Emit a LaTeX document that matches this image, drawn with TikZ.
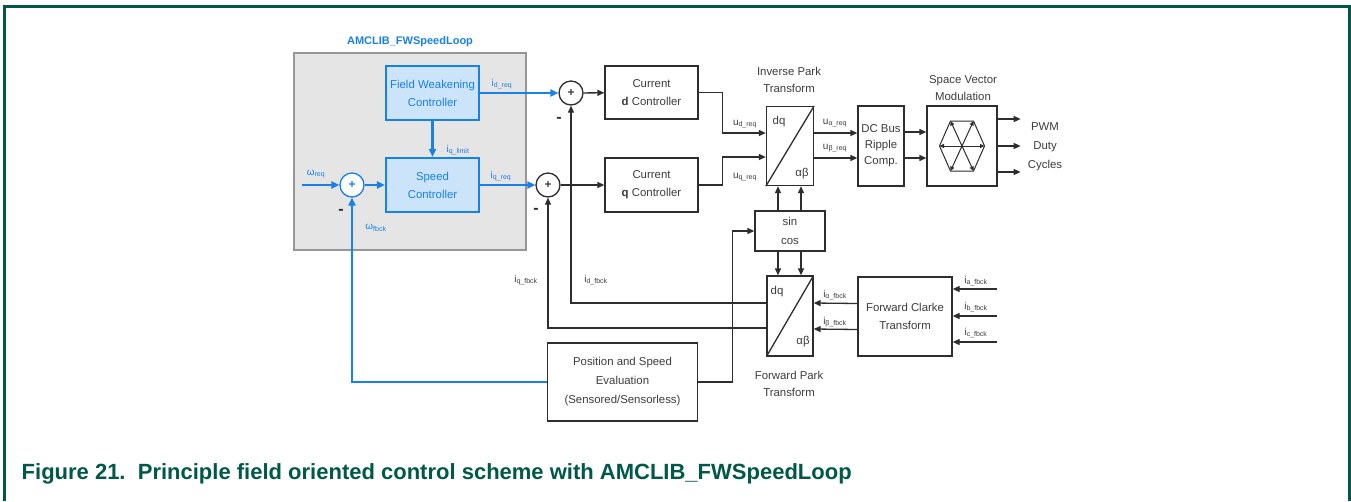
\documentclass[tikz,border=0pt]{standalone}
\usepackage{fontspec}
\setmainfont{Liberation Sans}
\usetikzlibrary{arrows.meta,calc}
\definecolor{frm}{RGB}{0,88,72}
\definecolor{ln}{RGB}{45,45,45}
\definecolor{tx}{RGB}{60,60,60}
\definecolor{bl}{RGB}{25,128,230}
\definecolor{bfill}{RGB}{204,228,250}
\definecolor{gfill}{RGB}{229,229,229}
\definecolor{gdraw}{RGB}{150,150,150}
\newcommand{\sbs}[1]{\textsubscript{#1}}
\begin{document}
\begin{tikzpicture}[x=1pt,y=-1pt,
 every node/.style={font=\fontsize{11.4}{18}\selectfont, text=tx},
 blk/.style={draw=ln, line width=1.3pt, fill=white, align=center, inner sep=0pt},
 bblk/.style={draw=bl, line width=2.2pt, fill=bfill, align=center, text=bl, inner sep=0pt},
 sumc/.style={circle, draw=ln, line width=1.3pt, minimum size=24pt, inner sep=0pt, fill=white, font=\fontsize{12}{12}\selectfont\bfseries},
 arr/.style={-{Triangle[length=7pt,width=6pt]}, line width=1.3pt, draw=ln},
 barr/.style={-{Triangle[length=8pt,width=7pt]}, line width=2.2pt, draw=bl},
 lbl/.style={font=\fontsize{10}{12}\selectfont, inner sep=0pt},
 blbl/.style={lbl, text=bl},
 sgn/.style={font=\fontsize{16}{16}\selectfont\bfseries, inner sep=0pt, text=ln},
]
\path[use as bounding box] (0,0) rectangle (1351,501);
\draw[frm, line width=3pt] (4,501) -- (4,6) -- (1349.5,6) -- (1349.5,501);

% AMCLIB block
\node[draw=gdraw, fill=gfill, line width=1.2pt, minimum width=232pt, minimum height=197pt] (amc) at (410,151.5) {};
\node[font=\fontsize{11}{13}\selectfont\bfseries, text=bl] (amct) at (410,42) {AMCLIB\_FWSpeedLoop};
\node[bblk, minimum width=93pt, minimum height=54pt] (fw) at (432.5,93) {Field Weakening\\Controller};
\node[bblk, minimum width=93pt, minimum height=54pt] (spd) at (432.5,185) {Speed\\Controller};
\node[sumc, draw=bl, text=bl] (s1) at (352,185) {+};
\coordinate (win) at (302,185);
\draw[barr] (win) -- (s1);
\draw[barr] (s1) -- (spd);
\draw[barr] (fw) -- (spd);
\node[blbl] (lwr) at (316,174) {ω\sbs{req}};
\node[blbl] (lql) at (458,150) {i\sbs{q\_limit}};
\node[blbl] (lwf) at (376,228) {ω\sbs{fbck}};
\node[sgn] (m1) at (341,212) {-};

% current loop
\node[sumc] (s2) at (571,93) {+};
\node[sumc] (s3) at (548,185) {+};
\draw[barr] (fw) -- (s2);
\draw[barr] (spd) -- (s3);
\node[blbl] (ldr) at (502,84) {i\sbs{d\_req}};
\node[blbl] (lqr) at (501,176) {i\sbs{q\_req}};
\node[sgn] (m2) at (559,120) {-};
\node[sgn] (m3) at (536,211) {-};

\node[blk, minimum width=93pt, minimum height=53pt] (cd) at (651.5,92.5) {Current\\\textbf{d} Controller};
\node[blk, minimum width=93pt, minimum height=54pt] (cq) at (651.5,185) {Current\\\textbf{q} Controller};
\draw[arr] (s2) -- (cd);
\draw[arr] (s3) -- (cq);

% inverse park
\node[blk, minimum width=47pt, minimum height=79pt] (ip) at (790,146) {};
\draw[ln, line width=1.3pt] (ip.south west) -- (ip.north east);
\node (ipdq) at (779,122) {dq};
\node (ipab) at (802,174) {αβ};
\node[align=center, font=\fontsize{11.4}{17}\selectfont] (ipt) at (789,80) {Inverse Park\\Transform};
\draw[arr] (cd.east) -- ++(24,0) |- ([yshift=13pt]ip.west);
\draw[arr] (cq.east) -- ++(24,0) |- ([yshift=-11pt]ip.west);
\node[lbl] (lud) at (745,124) {u\sbs{d\_req}};
\node[lbl] (luq) at (745,177) {u\sbs{q\_req}};

% DC bus and SVM
\node[blk, minimum width=46pt, minimum height=80pt, font=\fontsize{11.4}{16}\selectfont] (dc) at (881,146) {DC Bus\\Ripple\\Comp.};
\draw[arr] ([yshift=13pt]ip.east) -- ([yshift=13pt]dc.west);
\draw[arr] ([yshift=-12pt]ip.east) -- ([yshift=-12pt]dc.west);
\node[lbl] (lua) at (835,123) {u\sbs{α\_req}};
\node[lbl] (lub) at (835,148) {u\sbs{β\_req}};
\node[blk, minimum width=70pt, minimum height=80pt] (svm) at (962,146) {};
\node[align=center, font=\fontsize{11.4}{17}\selectfont] (svmt) at (963,88) {Space Vector\\Modulation};
\draw[arr] ([yshift=14pt]dc.east) -- ([yshift=14pt]svm.west);
\draw[arr] ([yshift=-12pt]dc.east) -- ([yshift=-12pt]svm.west);
\draw[ln, line width=1pt] ($(svm)+(-22.5,0)$) -- ($(svm)+(-11.5,-25)$) -- ($(svm)+(11.5,-25)$) -- ($(svm)+(22.5,0)$) -- ($(svm)+(11.5,25)$) -- ($(svm)+(-11.5,25)$) -- cycle;
\foreach \dx/\dy in {-22.5/0, -11.5/-25, 11.5/-25, 22.5/0, 11.5/25, -11.5/25}
  \draw[ln, line width=1pt, -{Triangle[length=4.5pt,width=4pt]}] (svm.center) -- ($(svm)+(\dx,\dy)$);
\draw[arr] ([yshift=27pt]svm.east) -- ++(23,0);
\draw[arr] (svm.east) -- ++(23,0);
\draw[arr] ([yshift=-26pt]svm.east) -- ++(23,0);
\node[align=center, font=\fontsize{11.4}{19}\selectfont] (pwm) at (1045,147) {PWM\\Duty\\Cycles};

% sin cos
\node[blk, minimum width=70pt, minimum height=40pt, font=\fontsize{11.4}{19}\selectfont] (scs) at (790,231) {sin\\cos};
\draw[arr] ([xshift=-12pt]scs.north) -- ([xshift=-12pt]ip.south);
\draw[arr] ([xshift=11pt]scs.north) -- ([xshift=11pt]ip.south);

% forward park
\node[blk, minimum width=46pt, minimum height=80pt] (fp) at (790,316) {};
\draw[ln, line width=1.3pt] (fp.south west) -- (fp.north east);
\node (fpdq) at (777,292) {dq};
\node (fpab) at (803,342) {αβ};
\node[align=center, font=\fontsize{11.4}{17}\selectfont] (fpt) at (789,384) {Forward Park\\Transform};
\draw[arr] ([xshift=-12pt]scs.south) -- ([xshift=-12pt]fp.north);
\draw[arr] ([xshift=11pt]scs.south) -- ([xshift=11pt]fp.north);

% forward clarke
\node[blk, minimum width=94pt, minimum height=79pt] (fc) at (905,316.5) {Forward Clarke\\Transform};
\draw[arr] ([yshift=13pt]fc.west) -- ([yshift=13pt]fp.east);
\draw[arr] ([yshift=-13pt]fc.west) -- ([yshift=-13pt]fp.east);
\node[lbl] (lia) at (835,295) {i\sbs{α\_fbck}};
\node[lbl] (lib) at (835,322) {i\sbs{β\_fbck}};
\coordinate (ia) at (997,289);
\coordinate (ib) at (997,316);
\coordinate (ic) at (997,342);
\draw[arr] (ia) -- (ia -| fc.east);
\draw[arr] (ib) -- (ib -| fc.east);
\draw[arr] (ic) -- (ic -| fc.east);
\node[lbl] (lfa) at (976,281) {i\sbs{a\_fbck}};
\node[lbl] (lfb) at (976,307) {i\sbs{b\_fbck}};
\node[lbl] (lfc) at (976,333) {i\sbs{c\_fbck}};

% feedback
\draw[arr] ([yshift=13pt]fp.west) -| (s2);
\draw[arr] ([yshift=-12pt]fp.west) -| (s3);
\node[lbl] (lidf) at (596,280) {i\sbs{d\_fbck}};
\node[lbl] (liqf) at (526,280) {i\sbs{q\_fbck}};

% position and speed
\node[blk, minimum width=150pt, minimum height=78pt, font=\fontsize{11.4}{19}\selectfont] (pse) at (622.5,382) {Position and Speed\\Evaluation\\(Sensored/Sensorless)};
\draw[arr] (pse.east) -- ++(34,0) |- (scs.west);
\draw[barr] (pse.west) -| (s1);

% caption
\node[anchor=base west, font=\fontsize{22}{26}\selectfont\bfseries, text=frm, inner sep=0pt] (cap) at (21.5,479) {Figure 21.\ \ Principle field oriented control scheme with AMCLIB\_FWSpeedLoop};
\end{tikzpicture}
\end{document}
